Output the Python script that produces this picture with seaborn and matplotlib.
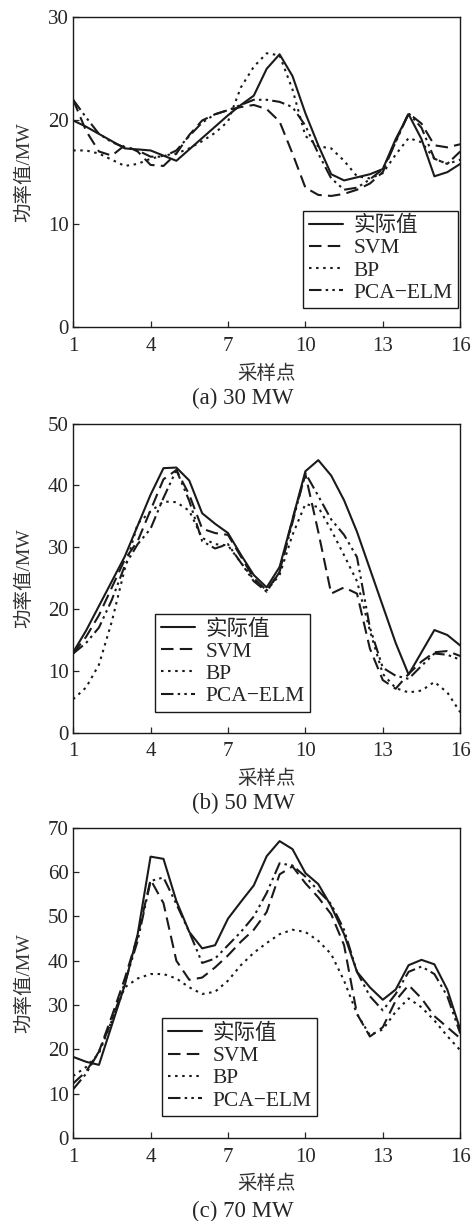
import numpy as np
import pandas as pd
import matplotlib
matplotlib.use("Agg")
import matplotlib.pyplot as plt
import seaborn as sns

x = [1, 1.5, 2, 2.5, 3, 3.5, 4, 4.5, 5, 5.5, 6, 6.5, 7, 7.5, 8, 8.5,
     9, 9.5, 10, 10.5, 11, 11.5, 12, 12.5, 13, 13.5, 14, 14.5, 15, 15.5, 16]

# (a) 30 MW
actual_a = [20.0, 19.4, 18.7, 18.0, 17.3, 17.2, 17.1, 16.6, 16.1, 17.2, 18.3, 19.4, 20.5, 21.5, 22.4, 25.0,
            26.4, 24.3, 20.7, 17.6, 14.8, 14.2, 14.5, 14.8, 15.3, 18.2, 20.6, 18.2, 14.6, 15.0, 15.8]
svm_a = [22.0, 19.0, 17.0, 16.6, 17.6, 17.0, 15.7, 15.6, 16.8, 18.6, 20.0, 20.6, 21.0, 21.3, 21.5, 21.1,
         19.9, 16.8, 13.5, 12.8, 12.7, 12.9, 13.3, 13.9, 15.0, 18.0, 20.7, 19.7, 17.6, 17.4, 17.7]
bp_a = [17.1, 17.1, 16.8, 16.2, 15.6, 15.8, 16.3, 16.6, 16.8, 17.3, 18.0, 18.8, 19.9, 23.2, 25.2, 26.5,
        26.3, 23.0, 18.5, 17.5, 17.3, 16.1, 14.6, 14.4, 14.9, 16.7, 18.3, 17.9, 16.3, 15.8, 16.2]
pca_a = [22.0, 20.3, 18.7, 17.9, 17.4, 17.1, 16.5, 16.5, 17.1, 18.5, 19.8, 20.6, 21.0, 21.5, 22.0, 22.0,
         21.8, 21.3, 19.5, 16.8, 14.4, 13.3, 13.5, 14.3, 15.3, 17.9, 20.7, 19.3, 16.3, 15.8, 17.0]

# (b) 50 MW
actual_b = [13.0, 16.5, 20.5, 24.5, 28.5, 33.5, 38.5, 42.8, 42.9, 40.8, 35.5, 33.8, 32.3, 28.8, 25.5, 23.5,
            26.8, 34.5, 42.3, 44.1, 41.6, 37.6, 32.5, 26.5, 20.5, 14.5, 9.4, 13.0, 16.6, 15.8, 14.1]
svm_b = [12.8, 15.5, 19.0, 23.5, 28.0, 31.0, 36.0, 41.0, 42.5, 38.5, 33.0, 32.3, 32.0, 28.5, 25.0, 23.0,
         26.0, 34.5, 41.8, 32.5, 22.5, 23.5, 22.5, 13.6, 8.5, 7.1, 9.5, 11.5, 13.0, 13.2, 12.4]
bp_b = [5.4, 7.3, 11.0, 18.0, 26.5, 33.8, 35.8, 37.4, 37.3, 35.9, 31.5, 30.5, 30.3, 27.5, 24.8, 23.0,
        25.5, 32.0, 37.0, 36.5, 32.8, 28.7, 24.5, 16.5, 9.5, 7.2, 6.5, 6.8, 8.2, 6.5, 3.3]
pca_b = [12.8, 14.5, 17.0, 21.5, 27.0, 30.5, 33.0, 38.0, 42.5, 37.5, 31.0, 29.8, 30.5, 27.5, 24.5, 22.8,
         26.0, 34.0, 42.0, 38.3, 34.5, 32.0, 28.4, 17.0, 10.5, 9.2, 8.7, 10.8, 12.8, 12.6, 11.8]

# (c) 70 MW
actual_c = [18.3, 17.2, 16.5, 25.5, 34.5, 46.0, 63.5, 63.0, 53.5, 46.5, 42.8, 43.5, 49.5, 53.3, 57.0, 63.6,
            67.0, 65.2, 59.8, 57.3, 52.3, 46.0, 37.5, 34.0, 31.2, 33.5, 39.0, 40.2, 39.2, 33.5, 24.5]
svm_c = [12.3, 15.0, 19.5, 27.5, 36.0, 45.5, 58.3, 53.0, 40.0, 35.7, 36.2, 38.5, 41.2, 44.3, 47.0, 51.0,
         59.5, 61.3, 57.5, 54.3, 50.5, 43.5, 28.0, 22.9, 25.0, 31.0, 34.5, 31.5, 27.5, 25.0, 22.5]
bp_c = [14.0, 16.0, 19.1, 26.5, 34.0, 36.0, 37.0, 37.0, 36.0, 34.0, 32.5, 33.0, 35.5, 39.0, 41.8, 44.0,
        46.0, 47.0, 46.5, 44.5, 41.5, 35.5, 28.0, 23.2, 24.5, 28.5, 31.5, 29.5, 26.5, 23.0, 19.8]
pca_c = [11.0, 14.5, 19.5, 26.5, 35.0, 44.5, 58.0, 58.8, 52.8, 46.5, 39.5, 40.5, 43.5, 46.5, 50.0, 55.3,
         62.0, 61.5, 59.0, 55.8, 52.8, 47.0, 37.5, 32.0, 28.8, 32.5, 37.5, 38.7, 37.0, 32.0, 23.6]

labels = ["实际值", "SVM", "BP", "PCA\u2212ELM"]
captions = ["(a) 30 MW", "(b) 50 MW", "(c) 70 MW"]
ymax = [30, 50, 70]
yticks = [[0, 10, 20, 30], [0, 10, 20, 30, 40, 50], [0, 10, 20, 30, 40, 50, 60, 70]]
xticks = [1, 4, 7, 10, 13, 16]

sns.set_style("ticks")
plt.rcParams["font.family"] = ["Liberation Serif", "Noto Sans CJK SC"]

styles = ["-", (0, (6, 3)), (0, (1.2, 2.2)), (0, (6, 2, 1.2, 2, 1.2, 2))]
panels = [
    [actual_a, svm_a, bp_a, pca_a],
    [actual_b, svm_b, bp_b, pca_b],
    [actual_c, svm_c, bp_c, pca_c],
]

fig = plt.figure(figsize=(4.72, 12.21), dpi=100)
ax_rects = [
    [0.155, 0.732, 0.820, 0.254],
    [0.155, 0.400, 0.820, 0.253],
    [0.155, 0.068, 0.820, 0.254],
]
legend_pos = [("lower right", (0.995, 0.061)),
              ("lower left", (0.212, 0.068)),
              ("lower left", (0.230, 0.071))]
caption_y = [0.674, 0.342, 0.0075]

for i, series in enumerate(panels):
    ax = fig.add_axes(ax_rects[i])
    for vals, lab, ls in zip(series, labels, styles):
        df = pd.DataFrame({"x": x, "y": vals})
        sns.lineplot(data=df, x="x", y="y", ax=ax, color="#1a1a1a",
                     linestyle=ls, linewidth=1.5, label=lab)
    ax.set_xlim(1, 16)
    ax.set_ylim(0, ymax[i])
    ax.set_xticks(xticks)
    ax.set_yticks(yticks[i])
    ax.tick_params(direction="in", length=4, width=0.9, labelsize=15,
                   top=False, right=False)
    ax.tick_params(axis="x", pad=7)
    ax.tick_params(axis="y", pad=3)
    for s in ax.spines.values():
        s.set_linewidth(1.0)
        s.set_color("#1a1a1a")
    ax.set_xlabel("采样点", fontsize=14, labelpad=6, color="#333333")
    ax.set_ylabel("功率值/MW", fontsize=14, labelpad=11, color="#333333")
    loc, anchor = legend_pos[i]
    leg = ax.legend(loc=loc, bbox_to_anchor=anchor, borderaxespad=0,
                    fontsize=15.5, handlelength=1.6, handletextpad=0.5,
                    labelspacing=0.1, borderpad=0.25, fancybox=False,
                    framealpha=1, edgecolor="#1a1a1a")
    leg.get_frame().set_linewidth(1.0)
    fig.text(0.515, caption_y[i], captions[i], ha="center", va="center", fontsize=16.5)

plt.savefig("out.png", dpi=100)
